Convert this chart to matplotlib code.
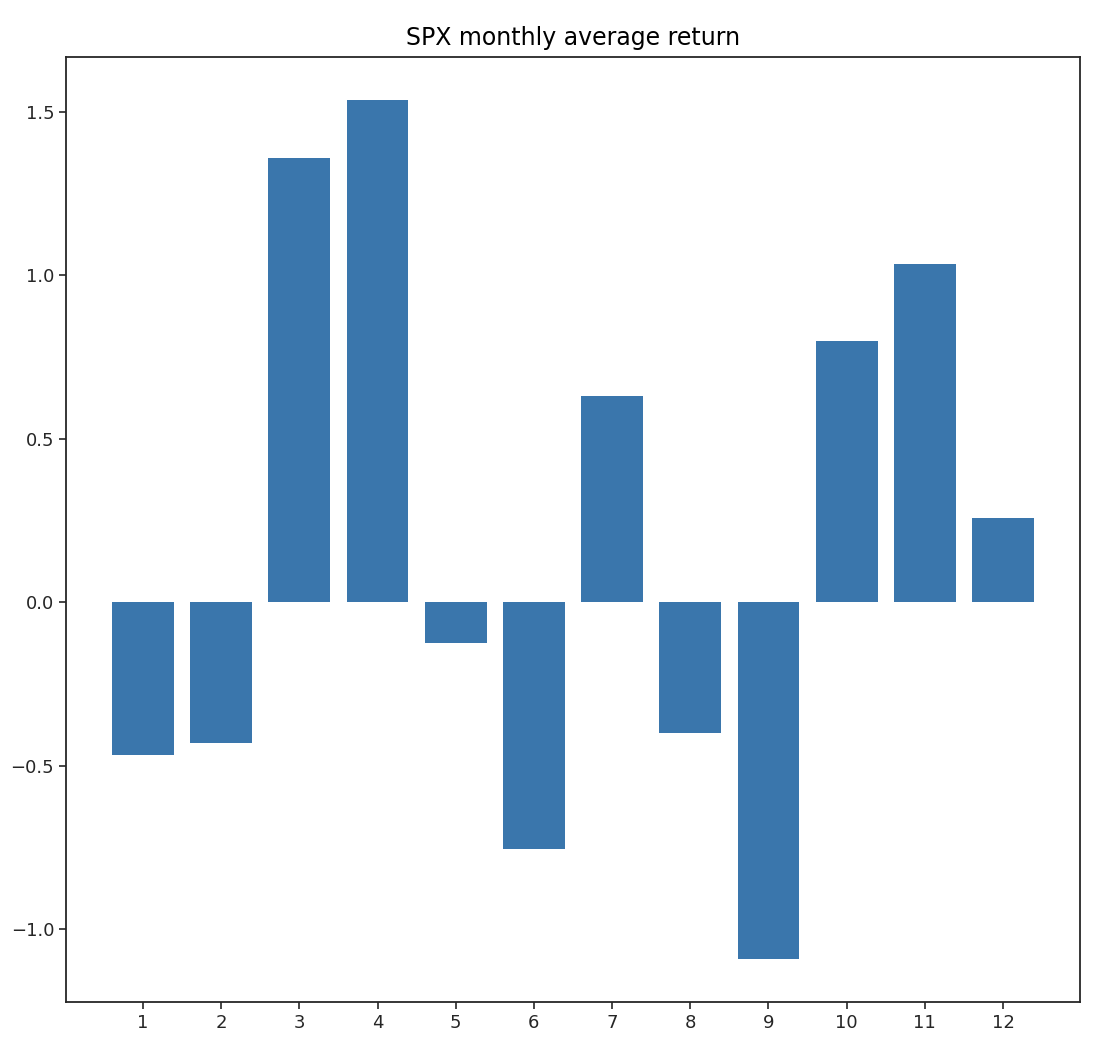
import matplotlib
matplotlib.use("Agg")
import matplotlib.pyplot as plt

months = [1, 2, 3, 4, 5, 6, 7, 8, 9, 10, 11, 12]
avg_return = [-0.468, -0.431, 1.358, 1.537, -0.125, -0.755, 0.630, -0.400, -1.092, 0.798, 1.034, 0.257]

plt.rcParams['font.size'] = 13
fig = plt.figure(figsize=(10.94, 10.60), dpi=100)
ax = fig.add_axes([66/1094, 1 - 1002/1060, (1080-66)/1094, (1002-57)/1060])
ax.bar(months, avg_return, width=0.79, color='#3a76ac')
ax.set_xticks(months)
ax.set_xticklabels([str(m) for m in months])
ax.set_title('SPX monthly average return', fontsize=17, pad=9)
for s in ax.spines.values():
    s.set_color('#262626')
    s.set_linewidth(1.3)
ax.tick_params(colors='#262626', length=5, width=1.2, labelsize=13)
fig.savefig('out.png', dpi=100)
